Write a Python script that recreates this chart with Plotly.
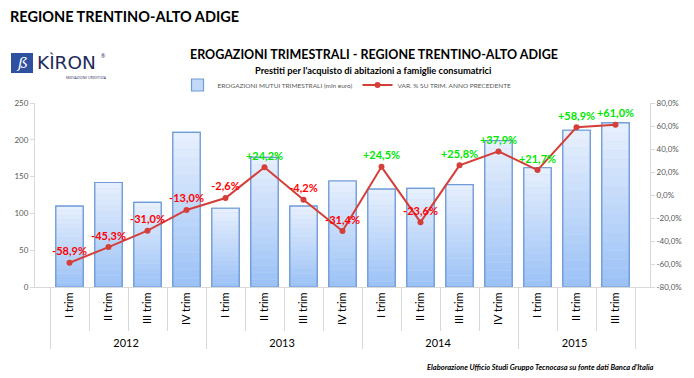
import plotly.graph_objects as go

years = ["2012"] * 4 + ["2013"] * 4 + ["2014"] * 4 + ["2015"] * 3
quarters = ["I trim", "II trim", "III trim", "IV trim"] * 3 + ["I trim", "II trim", "III trim"]
erogazioni = [110, 142, 115, 210, 107, 176, 110, 144, 133, 134, 139, 199, 162, 213, 223]
variazione = [-58.9, -45.3, -31.0, -13.0, -2.6, 24.2, -4.2, -31.4, 24.5, -23.6, 25.8, 37.9, 21.7, 58.9, 61.0]
left_ticks = [0, 50, 100, 150, 200, 250]
right_ticks = [-80, -60, -40, -20, 0, 20, 40, 60, 80]
right_tick_text = [("%.1f" % v).replace(".", ",") + "%" for v in right_ticks]

W, H = 694, 378
L, R, T, B = 35, 650, 103, 287


def px(x):
    return (x - L) / (R - L)


def py(y):
    return (B - y) / (B - T)


def lerp(c1, c2, t):
    a = [int(c1[i:i + 2], 16) for i in (1, 3, 5)]
    b = [int(c2[i:i + 2], 16) for i in (1, 3, 5)]
    return "rgb(%d,%d,%d)" % tuple(round(a[k] + (b[k] - a[k]) * t) for k in range(3))


x = [years, quarters]
fig = go.Figure()

fig.add_trace(go.Bar(
    x=x, y=erogazioni, name="EROGAZIONI MUTUI TRIMESTRALI (mln euro)",
    marker=dict(color="#c3d9f9", line=dict(color="#6f9bd6", width=1.2)),
    hoverinfo="skip"))

N = 18
bottom_c, top_c = "#9cc2f6", "#e6effd"
for i in range(N):
    fig.add_trace(go.Bar(
        x=x, y=[v / N for v in erogazioni], base=[v * i / N for v in erogazioni],
        marker=dict(color=lerp(bottom_c, top_c, i / (N - 1)), line=dict(width=0)),
        showlegend=False, hoverinfo="skip"))

fig.add_trace(go.Bar(
    x=x, y=erogazioni, showlegend=False,
    marker=dict(color="rgba(0,0,0,0)", line=dict(color="#6f9bd6", width=1.2)),
    hoverinfo="skip"))

labels = [("+" if v > 0 else "") + ("%.1f" % v).replace(".", ",") + "%" for v in variazione]
label_colors = ["#00e600" if v > 0 else "#ff0000" for v in variazione]

fig.add_trace(go.Scatter(
    x=x, y=variazione, yaxis="y2", mode="lines+markers+text",
    name="VAR. % SU TRIM. ANNO PRECEDENTE",
    line=dict(color="#d43f3a", width=2),
    marker=dict(color="#d43f3a", size=6),
    text=labels, textposition="top center",
    textfont=dict(color=label_colors, size=11, family="Lato", weight="bold"),
    cliponaxis=False))

fig.update_layout(
    width=W, height=H,
    margin=dict(l=L, r=W - R, t=T, b=H - B, autoexpand=False),
    paper_bgcolor="white", plot_bgcolor="white",
    barmode="overlay", bargap=0.3,
    separators=",.",
    showlegend=True,
    legend=dict(orientation="h", x=px(347), xanchor="center", y=py(85), yanchor="middle",
                font=dict(size=6.5, color="#595959", family="Lato"),
                itemwidth=30, traceorder="normal", bgcolor="rgba(0,0,0,0)"),
    xaxis=dict(type="multicategory", tickangle=-90, showgrid=False,
               ticks="outside", ticklen=43, tickcolor="#d9d9d9",
               showline=True, linecolor="#d9d9d9",
               showdividers=True, dividercolor="#d9d9d9", dividerwidth=1,
               tickfont=dict(size=11, color="#000000", family="Lato")),
    yaxis=dict(range=[0, 250], tickvals=left_ticks, showgrid=False, zeroline=False,
               showline=True, linecolor="#d9d9d9", ticks="outside", ticklen=4,
               tickcolor="#d9d9d9", tickfont=dict(size=8, color="#595959", family="Lato")),
    yaxis2=dict(range=[-80, 80], tickvals=right_ticks, ticktext=right_tick_text,
                overlaying="y", side="right",
                showgrid=False, zeroline=False, showline=True, linecolor="#d9d9d9",
                ticks="outside", ticklen=4, tickcolor="#d9d9d9",
                tickfont=dict(size=8, color="#595959", family="Lato")),
)

ann = [
    dict(text="<b>REGIONE TRENTINO-ALTO ADIGE</b>", x=px(8), y=py(16), xanchor="left", yanchor="middle",
         font=dict(size=14.5, color="#000000", family="Lato")),
    dict(text="<b>EROGAZIONI TRIMESTRALI - REGIONE TRENTINO-ALTO ADIGE</b>", x=px(374), y=py(55),
         xanchor="center", yanchor="middle", font=dict(size=12.5, color="#000000", family="Lato")),
    dict(text="<b>Prestiti per l'acquisto di abitazioni a famiglie consumatrici</b>", x=px(373), y=py(70),
         xanchor="center", yanchor="middle", font=dict(size=9.3, color="#000000", family="Lato")),
    dict(text="<b><i>Elaborazione Ufficio Studi Gruppo Tecnocasa su fonte dati Banca d'Italia</i></b>",
         x=px(656), y=py(367), xanchor="right", yanchor="middle",
         font=dict(size=7.5, color="#000000", family="Lato")),
    dict(text="KÌRON", x=px(35), y=py(62), xanchor="left", yanchor="middle",
         font=dict(size=18.5, color="#1f2a5c", family="DejaVu Sans")),
    dict(text="®", x=px(99), y=py(56), xanchor="left", yanchor="middle",
         font=dict(size=5, color="#1f2a5c")),
    dict(text="MEDIAZIONE CREDITIZIA", x=px(64), y=py(77), xanchor="left", yanchor="middle",
         font=dict(size=3.5, color="#1f2a5c")),
    dict(text="<i>ß</i>", x=px(22), y=py(63), xanchor="center", yanchor="middle",
         font=dict(size=15, color="#ffffff", family="DejaVu Serif")),
]
for a in ann:
    a.update(xref="paper", yref="paper", showarrow=False)
fig.update_layout(annotations=ann)

fig.add_shape(type="rect", xref="paper", yref="paper", x0=px(11), x1=px(33), y0=py(53), y1=py(73),
              fillcolor="#2f4fa0", line=dict(width=0), layer="below")

fig.write_html("out.html", config={"displayModeBar": False},
               post_script="document.body.style.margin='0px';")
